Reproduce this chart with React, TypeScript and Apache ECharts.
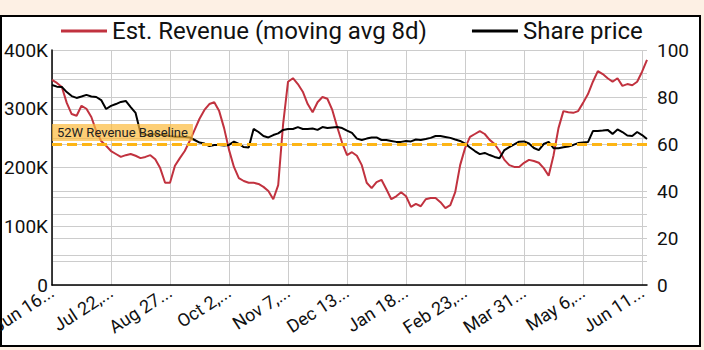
import React, { useEffect, useRef } from "react";
import * as echarts from "echarts";

// ---- data ----
const START_DATE = [2022, 5, 16]; // Jun 16, 2022
const DAY_COUNT = 364;
const SAMPLE_STEP = 3; // one reading every 3 days
const LABEL_EVERY = 36; // a date label every 36 days
const MONTHS = ["Jan", "Feb", "Mar", "Apr", "May", "Jun", "Jul", "Aug", "Sep", "Oct", "Nov", "Dec"];
// x tick labels as they appear (truncated dates)
const TICK_LABELS = [
  "Jun 16...", "Jul 22,...", "Aug 27...", "Oct 2,...", "Nov 7,...", "Dec 13...",
  "Jan 18...", "Feb 23,...", "Mar 31...", "May 6,...", "Jun 11...",
];

// Est. revenue, moving avg 8d (thousands)
const revenueK = [
  349, 344, 337, 310, 291, 288, 305, 300, 286, 262, 245, 237, 228, 223, 218, 221, 223, 220, 216, 218,
  221, 214, 199, 174, 174, 203, 216, 228, 245, 264, 283, 298, 308, 311, 296, 267, 230, 201, 182, 177,
  174, 174, 172, 167, 160, 146, 170, 274, 346, 352, 342, 329, 308, 294, 311, 320, 317, 298, 269, 242,
  221, 226, 220, 204, 174, 165, 175, 179, 163, 146, 151, 158, 151, 133, 138, 134, 146, 148, 148, 141,
  131, 136, 158, 204, 233, 252, 257, 262, 257, 247, 240, 228, 213, 204, 201, 201, 208, 213, 211, 208,
  199, 186, 221, 267, 296, 294, 293, 296, 310, 325, 346, 364, 359, 352, 346, 352, 339, 342, 340, 346,
  363, 383,
];

// Share price
const sharePrice = [
  85.1, 84.4, 84.3, 82.1, 80.4, 79.6, 80.2, 80.9, 80.2, 80.0, 78.7, 74.9, 76.2, 77.0, 77.9, 78.3, 75.7, 73.2, 64.7, 63.8,
  63.8, 64.3, 63.8, 63.8, 63.4, 63.1, 63.1, 63.0, 62.8, 61.7, 60.6, 60.2, 59.1, 59.6, 59.6, 59.4, 59.6, 61.0, 60.0, 58.7,
  58.5, 66.4, 65.1, 63.4, 62.8, 63.8, 64.5, 66.0, 66.4, 66.4, 67.2, 66.4, 66.4, 66.6, 66.0, 67.2, 66.8, 67.0, 67.2, 66.8,
  65.7, 64.7, 62.3, 61.7, 62.3, 62.8, 62.8, 61.7, 61.7, 61.3, 60.9, 60.9, 61.3, 61.1, 61.9, 61.7, 62.1, 62.6, 63.4, 63.4,
  63.0, 62.6, 61.9, 61.3, 60.2, 58.5, 57.0, 55.7, 56.2, 55.3, 54.5, 53.9, 57.4, 58.7, 59.8, 61.0, 61.1, 60.2, 58.3, 57.4,
  60.0, 60.9, 58.2, 58.2, 58.6, 58.9, 59.6, 60.4, 60.6, 60.8, 65.5, 65.5, 65.7, 66.0, 64.3, 66.2, 65.1, 63.6, 63.4, 65.1,
  63.8, 62.1,
];

const BASELINE_REVENUE = 240000;
const BASELINE_LABEL = "52W Revenue Baseline";
const SERIES_NAMES = ["Est. Revenue (moving avg 8d)", "Share price"];

function buildCategories(): string[] {
  const out: string[] = [];
  const d0 = new Date(Date.UTC(START_DATE[0], START_DATE[1], START_DATE[2]));
  for (let i = 0; i < DAY_COUNT; i++) {
    const d = new Date(d0.getTime() + i * 86400000);
    out.push(`${MONTHS[d.getUTCMonth()]} ${d.getUTCDate()}, ${d.getUTCFullYear()}`);
  }
  return out;
}

export default function App() {
  const ref = useRef<HTMLDivElement>(null);
  useEffect(() => {
    if (!ref.current) return;
    const chart = echarts.init(ref.current, undefined, { renderer: "svg" });
    const categories = buildCategories();
    const font = "Roboto, 'Noto Sans', sans-serif";
    chart.setOption({
      animation: false,
      backgroundColor: "#fdf0e4",
      textStyle: { fontFamily: font },
      graphic: [
        {
          type: "rect",
          z: -10,
          silent: true,
          shape: { x: 1, y: 16, width: 699, height: 330 },
          style: { fill: "#ffffff", stroke: "#000000", lineWidth: 2 },
        },
      ],
      legend: {
        top: 14,
        left: 56,
        icon: "rect",
        itemWidth: 46,
        itemHeight: 3,
        itemGap: 45,
        textStyle: { fontSize: 24, color: "#111", fontFamily: font },
        data: SERIES_NAMES,
      },
      grid: {
        left: 52,
        right: 57,
        top: 50,
        bottom: 65,
        containLabel: false,
        outerBoundsMode: "none",
      },
      xAxis: {
        type: "category",
        data: categories,
        boundaryGap: false,
        axisLine: { show: true, lineStyle: { color: "#000", width: 1.5 } },
        axisTick: { show: false },
        splitLine: { show: true, interval: LABEL_EVERY - 1, lineStyle: { color: "#cccccc", width: 1 } },
        axisLabel: {
          interval: LABEL_EVERY - 1,
          rotate: 33,
          fontSize: 18,
          color: "#111",
          margin: 5,
          hideOverlap: false,
          fontFamily: font,
          formatter: (_v: string, i: number) => TICK_LABELS[Math.round(i / LABEL_EVERY)] ?? "",
        },
      },
      yAxis: [
        {
          type: "value",
          min: 0,
          max: 400000,
          interval: 100000,
          position: "left",
          axisLine: { show: true, lineStyle: { color: "#000", width: 1.5 } },
          axisTick: { show: false },
          splitLine: { show: true, lineStyle: { color: "#cccccc", width: 1 } },
          minorTick: { show: false, splitNumber: 2 },
          minorSplitLine: { show: true, lineStyle: { color: "#cccccc", width: 1 } },
          axisLabel: {
            fontSize: 19,
            color: "#111",
            margin: 4,
            fontFamily: font,
            formatter: (v: number) => (v === 0 ? "0" : `${v / 1000}K`),
          },
        },
        {
          type: "value",
          min: 0,
          max: 100,
          interval: 20,
          position: "right",
          axisLine: { show: false },
          axisTick: { show: false },
          splitLine: { show: true, lineStyle: { color: "#cccccc", width: 1 } },
          minorTick: { show: false, splitNumber: 2 },
          minorSplitLine: { show: true, lineStyle: { color: "#cccccc", width: 1 } },
          axisLabel: { fontSize: 19, color: "#111", margin: 10, fontFamily: font },
        },
      ],
      series: [
        {
          name: SERIES_NAMES[0],
          type: "line",
          yAxisIndex: 0,
          showSymbol: false,
          symbol: "none",
          lineStyle: { color: "#c1323f", width: 2 },
          itemStyle: { color: "#c1323f" },
          data: revenueK.map((v, i) => [i * SAMPLE_STEP, v * 1000]),
          markLine: {
            silent: true,
            symbol: "none",
            lineStyle: { color: "#fdb515", type: [10, 5], width: 3 },
            label: {
              show: true,
              position: "insideStartTop",
              formatter: BASELINE_LABEL,
              backgroundColor: "rgba(252, 186, 60, 0.7)",
              padding: [2, 5],
              color: "#222",
              fontSize: 13,
              distance: [0, 3],
              fontFamily: font,
            },
            data: [{ yAxis: BASELINE_REVENUE }],
          },
        },
        {
          name: SERIES_NAMES[1],
          type: "line",
          yAxisIndex: 1,
          showSymbol: false,
          symbol: "none",
          lineStyle: { color: "#000000", width: 2 },
          itemStyle: { color: "#000000" },
          data: sharePrice.map((v, i) => [i * SAMPLE_STEP, v]),
        },
      ],
    });
    return () => chart.dispose();
  }, []);
  return (
    <div
      ref={ref}
      style={{ position: "fixed", left: 0, top: 0, width: 704, height: 350 }}
    />
  );
}
